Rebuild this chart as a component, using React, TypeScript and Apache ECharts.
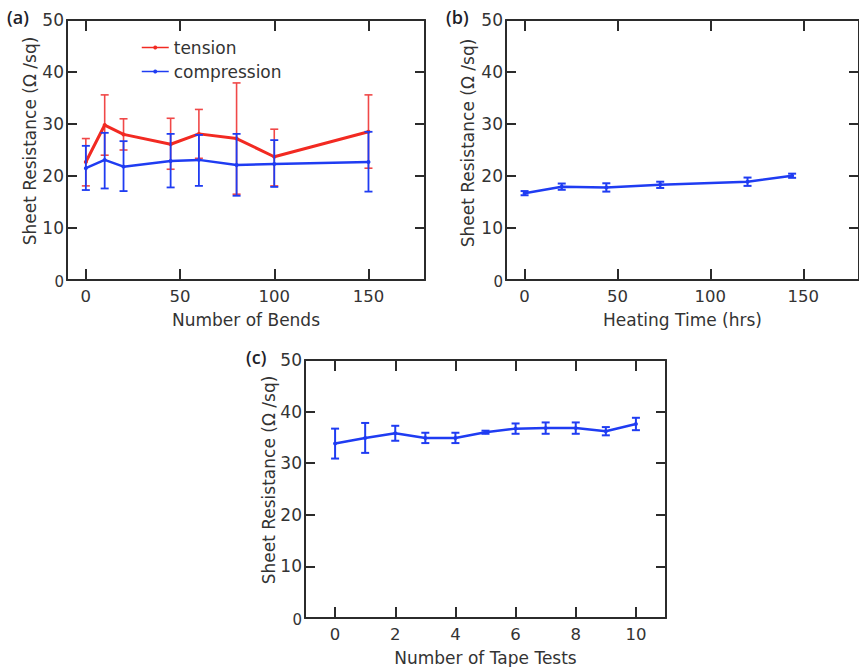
import React, { useEffect, useRef } from "react";
import * as echarts from "echarts";

// Panel (a): bending
const bendsX = [0, 10, 20, 45, 60, 80, 100, 150];
const tension = [22.7, 29.8, 28.0, 26.1, 28.1, 27.2, 23.7, 28.5];
const tensionLow = [18.1, 24.0, 25.0, 21.3, 23.4, 16.5, 18.1, 21.5];
const tensionHigh = [27.2, 35.6, 31.0, 31.1, 32.8, 37.9, 29.0, 35.6];
const compression = [21.5, 23.1, 21.8, 22.9, 23.1, 22.1, 22.3, 22.7];
const compressionLow = [17.3, 17.6, 17.1, 17.8, 18.1, 16.2, 17.9, 17.0];
const compressionHigh = [25.8, 28.3, 26.7, 28.1, 27.9, 28.1, 26.9, 28.5];

// Panel (b): heating
const heatX = [0, 20, 44, 73, 120, 144];
const heatY = [16.7, 17.95, 17.8, 18.3, 18.9, 20.05];
const heatErr = [0.4, 0.6, 0.8, 0.6, 0.8, 0.4];

// Panel (c): tape tests
const tapeX = [0, 1, 2, 3, 4, 5, 6, 7, 8, 9, 10];
const tapeY = [33.8, 34.9, 35.8, 34.9, 34.9, 36.0, 36.7, 36.8, 36.8, 36.2, 37.6];
const tapeErr = [2.9, 2.9, 1.45, 1.0, 1.0, 0.3, 1.0, 1.1, 1.1, 0.8, 1.2];

// Tick labels
const bendsTicks = [0, 50, 100, 150];
const heatTicks = [0, 50, 100, 150];
const tapeTicks = [0, 2, 4, 6, 8, 10];
const yTicks = [0, 10, 20, 30, 40, 50];

const RED = "#f22a22";
const RED_ERR = "#f04848";
const BLUE = "#1f3cf2";
const AXIS = "#2b2b2b";
const TXT = "#333333";
const FONT = "DejaVu Sans";

const yTitle = "Sheet Resistance (\u03A9 /sq)";

function errBar(color: string, width: number, hw: number) {
  return (params: any, api: any) => {
    const x = api.value(0);
    const lo = api.value(1);
    const hi = api.value(2);
    const p1 = api.coord([x, hi]);
    const p2 = api.coord([x, lo]);
    const style = { stroke: color, lineWidth: width };
    return {
      type: "group",
      children: [
        { type: "line", shape: { x1: p1[0], y1: p1[1], x2: p2[0], y2: p2[1] }, style },
        { type: "line", shape: { x1: p1[0] - hw, y1: p1[1], x2: p1[0] + hw, y2: p1[1] }, style },
        { type: "line", shape: { x1: p2[0] - hw, y1: p2[1], x2: p2[0] + hw, y2: p2[1] }, style },
      ],
    };
  };
}

function xAxes(grid: number, min: number, max: number, ticks: number[], name: string) {
  const common = {
    gridIndex: grid,
    type: "value",
    min,
    max,
    splitLine: { show: false },
    axisLine: { show: true, onZero: false, lineStyle: { color: AXIS, width: 2 } },
  };
  return [
    {
      ...common,
      position: "bottom",
      name,
      nameLocation: "middle",
      nameGap: 31,
      nameTextStyle: { fontFamily: FONT, fontSize: 17, color: TXT },
      axisTick: { show: true, inside: true, length: 11, customValues: ticks, lineStyle: { color: AXIS, width: 2 } },
      axisLabel: { show: true, customValues: ticks, margin: 8, fontFamily: FONT, fontSize: 16.5, color: TXT },
    },
    {
      ...common,
      position: "top",
      axisTick: { show: true, inside: true, length: 11, customValues: ticks, lineStyle: { color: AXIS, width: 2 } },
      axisLabel: { show: false },
    },
  ];
}

function yAxes(grid: number) {
  const common = {
    gridIndex: grid,
    type: "value",
    min: 0,
    max: 50,
    interval: 10,
    splitLine: { show: false },
    axisLine: { show: true, onZero: false, lineStyle: { color: AXIS, width: 2 } },
    axisTick: { show: true, inside: true, length: 10, lineStyle: { color: AXIS, width: 2 } },
  };
  return [
    {
      ...common,
      position: "left",
      axisLabel: {
        show: true,
        margin: 3,
        fontFamily: FONT,
        fontSize: 17,
        color: TXT,
        customValues: yTicks,
        formatter: (v: number) => (v === 0 ? "{s|0}" : String(v)),
        rich: { s: { fontSize: 15, fontFamily: FONT, color: TXT, padding: [4, 0, 0, 0] } },
      },
    },
    { ...common, position: "right", axisLabel: { show: false } },
  ];
}

const pairs = (xs: number[], ys: number[]) => xs.map((x, i) => [x, ys[i]]);
const ranges = (xs: number[], lo: number[], hi: number[]) => xs.map((x, i) => [x, lo[i], hi[i]]);
const symRanges = (xs: number[], ys: number[], e: number[]) => xs.map((x, i) => [x, ys[i] - e[i], ys[i] + e[i]]);

export default function App() {
  const ref = useRef<HTMLDivElement>(null);
  useEffect(() => {
    if (!ref.current) return;
    const chart = echarts.init(ref.current, null, { renderer: "svg" });
    const option: any = {
      animation: false,
      backgroundColor: "#ffffff",
      grid: [
        { left: 67, top: 20, width: 358, height: 260 },
        { left: 506, top: 20, width: 358, height: 260 },
        { left: 305, top: 360, width: 361, height: 260 },
      ],
      xAxis: [
        ...xAxes(0, -10, 180, bendsTicks, "Number of Bends"),
        ...xAxes(1, -10, 180, heatTicks, "Heating Time (hrs)"),
        ...xAxes(2, -1, 11, tapeTicks, "Number of Tape Tests"),
      ],
      yAxis: [...yAxes(0), ...yAxes(1), ...yAxes(2)],
      legend: {
        data: ["tension", "compression"],
        orient: "vertical",
        left: 136,
        top: 34,
        itemWidth: 27,
        itemHeight: 5,
        itemGap: 7,
        lineStyle: { width: 1.5 },
        textStyle: { fontFamily: FONT, fontSize: 17, color: TXT },
      },
      graphic: [
        { type: "text", left: 7, top: 8, style: { text: "(a)", fontFamily: "Open Sans", fontSize: 18, fontWeight: 600, fill: "#1e1e2a" } },
        { type: "text", left: 446, top: 8, style: { text: "(b)", fontFamily: "Open Sans", fontSize: 18, fontWeight: 600, fill: "#1e1e2a" } },
        { type: "text", left: 246, top: 348, style: { text: "(c)", fontFamily: "Open Sans", fontSize: 18, fontWeight: 600, fill: "#1e1e2a" } },
        { type: "text", x: 30, y: 141, rotation: Math.PI / 2, style: { text: yTitle, fontFamily: FONT, fontSize: 17, fill: TXT, align: "center", verticalAlign: "middle" } },
        { type: "text", x: 468, y: 143, rotation: Math.PI / 2, style: { text: yTitle, fontFamily: FONT, fontSize: 17, fill: TXT, align: "center", verticalAlign: "middle" } },
        { type: "text", x: 269, y: 480, rotation: Math.PI / 2, style: { text: yTitle, fontFamily: FONT, fontSize: 17, fill: TXT, align: "center", verticalAlign: "middle" } },
      ],
      series: [
        {
          name: "tension",
          type: "line",
          xAxisIndex: 0,
          yAxisIndex: 0,
          data: pairs(bendsX, tension),
          symbol: "circle",
          symbolSize: 4,
          lineStyle: { color: RED, width: 3 },
          itemStyle: { color: RED },
          z: 3,
        },
        {
          name: "tensionErr",
          type: "custom",
          xAxisIndex: 0,
          yAxisIndex: 0,
          data: ranges(bendsX, tensionLow, tensionHigh),
          encode: { x: 0, y: [1, 2] },
          renderItem: errBar(RED_ERR, 1.6, 4),
          z: 2,
        },
        {
          name: "compression",
          type: "line",
          xAxisIndex: 0,
          yAxisIndex: 0,
          data: pairs(bendsX, compression),
          symbol: "circle",
          symbolSize: 4,
          lineStyle: { color: BLUE, width: 2.5 },
          itemStyle: { color: BLUE },
          z: 5,
        },
        {
          name: "compressionErr",
          type: "custom",
          xAxisIndex: 0,
          yAxisIndex: 0,
          data: ranges(bendsX, compressionLow, compressionHigh),
          encode: { x: 0, y: [1, 2] },
          renderItem: errBar(BLUE, 1.8, 4),
          z: 4,
        },
        {
          name: "heating",
          type: "line",
          xAxisIndex: 2,
          yAxisIndex: 2,
          data: pairs(heatX, heatY),
          symbol: "circle",
          symbolSize: 4,
          lineStyle: { color: BLUE, width: 2.5 },
          itemStyle: { color: BLUE },
        },
        {
          name: "heatingErr",
          type: "custom",
          xAxisIndex: 2,
          yAxisIndex: 2,
          data: symRanges(heatX, heatY, heatErr),
          encode: { x: 0, y: [1, 2] },
          renderItem: errBar(BLUE, 2, 4),
        },
        {
          name: "tape",
          type: "line",
          xAxisIndex: 4,
          yAxisIndex: 4,
          data: pairs(tapeX, tapeY),
          symbol: "circle",
          symbolSize: 4,
          lineStyle: { color: BLUE, width: 2.5 },
          itemStyle: { color: BLUE },
        },
        {
          name: "tapeErr",
          type: "custom",
          xAxisIndex: 4,
          yAxisIndex: 4,
          data: symRanges(tapeX, tapeY, tapeErr),
          encode: { x: 0, y: [1, 2] },
          renderItem: errBar(BLUE, 2, 4),
        },
      ],
    };
    chart.setOption(option);
    return () => chart.dispose();
  }, []);
  return (
    <div
      ref={ref}
      style={{ position: "fixed", left: 0, top: 0, width: 859, height: 667, background: "#fff" }}
    />
  );
}
